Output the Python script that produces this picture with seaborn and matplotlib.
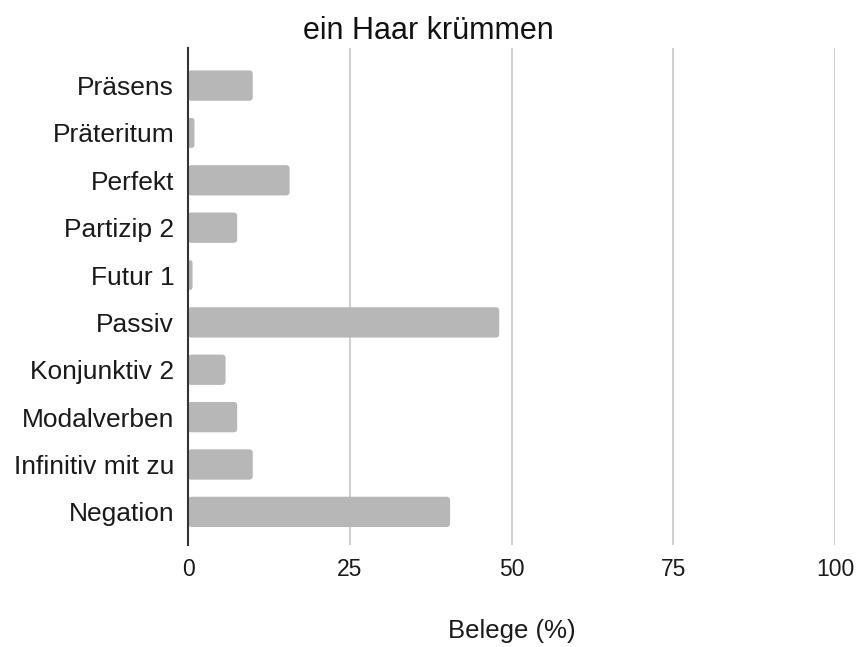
import numpy as np
import pandas as pd
import matplotlib
matplotlib.use('Agg')
import matplotlib.pyplot as plt
import seaborn as sns
from matplotlib.patches import FancyBboxPatch

categories = ['Präsens', 'Präteritum', 'Perfekt', 'Partizip 2', 'Futur 1', 'Passiv',
              'Konjunktiv 2', 'Modalverben', 'Infinitiv mit zu', 'Negation']
values = [10.0, 1.0, 15.7, 7.6, 0.7, 48.1, 5.8, 7.6, 10.0, 40.5]
x_ticks = [0, 25, 50, 75, 100]

df = pd.DataFrame({'Kategorie': categories, 'Belege': values})

sns.set_style('white')
plt.rcParams['font.family'] = ['Liberation Sans', 'DejaVu Sans']

fig = plt.figure(figsize=(8.57, 6.47), dpi=100)
ax = fig.add_axes([0.2194, 0.1576, 0.755, 0.768])

sns.barplot(data=df, x='Belege', y='Kategorie', color='#b7b7b7', saturation=1,
            width=0.64, ax=ax, zorder=2)

# round the bar corners like the original
for p in list(ax.patches):
    x, y = p.get_x(), p.get_y()
    w, h = p.get_width(), p.get_height()
    rb = FancyBboxPatch((x, y), w, h,
                        boxstyle='round,pad=0,rounding_size=0.55',
                        mutation_aspect=0.135,
                        facecolor='#b7b7b7', edgecolor='none', zorder=2)
    p.remove()
    ax.add_patch(rb)

ax.set_xlim(0, 100)
ax.set_ylim(9.70, -0.79)
ax.set_xticks(x_ticks)
ax.set_xticklabels([str(t) for t in x_ticks])
ax.xaxis.grid(True, color='#cccccc', linewidth=1.3, zorder=0)
ax.yaxis.grid(False)

for s in ['top', 'right', 'bottom']:
    ax.spines[s].set_visible(False)
ax.spines['left'].set_color('#333333')
ax.spines['left'].set_linewidth(1.5)
ax.spines['left'].set_zorder(3)

ax.tick_params(axis='x', length=0, pad=9, labelsize=16.5, labelcolor='#1a1a1a')
ax.tick_params(axis='y', length=0, pad=10, labelsize=19, labelcolor='#1a1a1a')

ax.set_ylabel('')
ax.set_xlabel('Belege (%)', fontsize=18.5, labelpad=28, color='#1a1a1a')
fig.suptitle('ein Haar krümmen', fontsize=22, x=0.5, y=0.975, va='top', color='#111111')

fig.savefig('out.png', dpi=100)
